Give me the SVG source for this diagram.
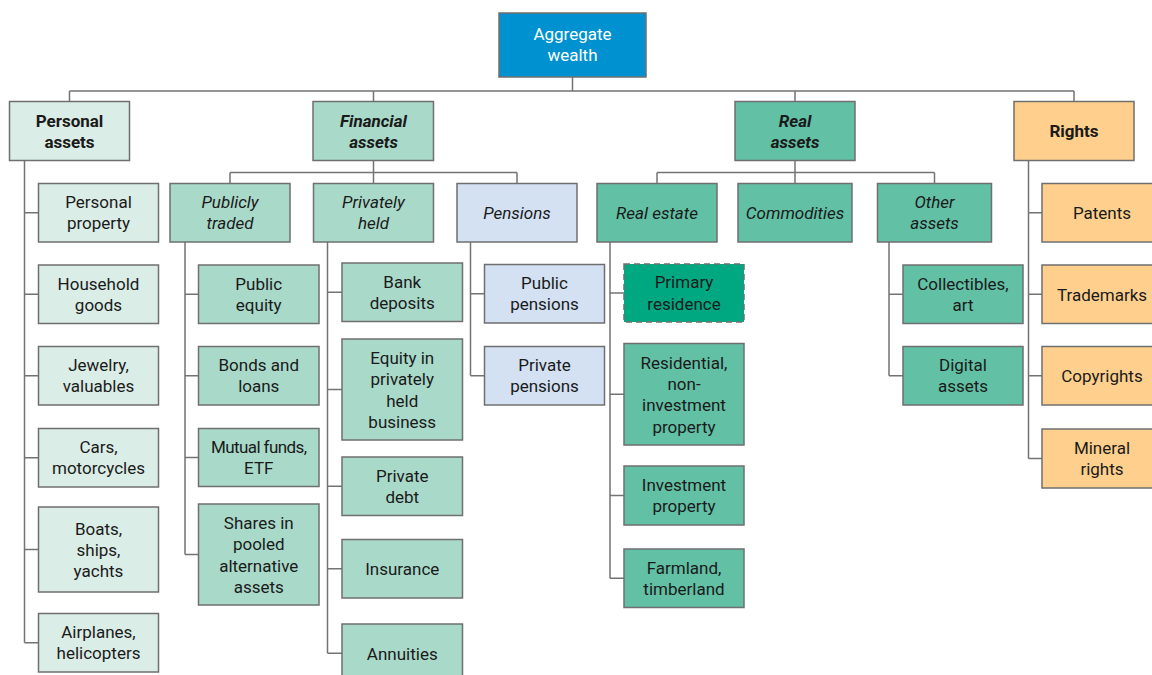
<svg xmlns="http://www.w3.org/2000/svg" width="1152" height="675" viewBox="0 0 1152 675">
  <style>
    rect { stroke: #6f6f6f; stroke-width: 1.5; }
    .root { fill: #0092d0; }
    .pers { fill: #daede6; }
    .fin { fill: #a9d9c9; }
    .real { fill: #62c0a5; }
    .pen { fill: #d3e1f3; }
    .rgt { fill: #ffd08d; }
    .prim { fill: #00a882; stroke-dasharray: 6 4; }
    text { font-family: Roboto, "Liberation Sans", sans-serif; font-size: 17px; fill: #1a1a1a; text-anchor: middle; }
    .w { fill: #ffffff; }
    .b { font-weight: bold; }
    .i { font-style: italic; }
    .bi { font-weight: bold; font-style: italic; }
    #connectors path { fill: none; stroke: #737373; stroke-width: 1.5; }
  </style>

  <!-- tree connectors -->
  <g id="connectors">
    <path d="M572.5 77V91M69.5 91H1074M69.5 91V101.5M373.5 91V101.5M795 91V101.5M1074 91V101.5"/>
    <!-- financial assets branch -->
    <path d="M373.5 160.5V183.5M230 172.5H517M230 172.5V183.5M517 172.5V183.5"/>
    <!-- real assets branch -->
    <path d="M795 160.5V183.5M657 172.5H934.5M657 172.5V183.5M934.5 172.5V183.5"/>
    <!-- personal assets -->
    <path d="M24.5 160.5V642.75M24.5 212.75H38.5M24.5 294.25H38.5M24.5 375.75H38.5M24.5 457.75H38.5M24.5 549.5H38.5M24.5 642.75H38.5"/>
    <!-- publicly traded -->
    <path d="M185 242V554.5M185 294.25H198.5M185 375.75H198.5M185 457.5H198.5M185 554.5H198.5"/>
    <!-- privately held -->
    <path d="M327.5 242V653.25M327.5 292.25H342M327.5 389.5H342M327.5 486.25H342M327.5 568.75H342M327.5 653.25H342"/>
    <!-- pensions -->
    <path d="M470.5 242V375.75M470.5 293.75H484.5M470.5 375.75H484.5"/>
    <!-- real estate -->
    <path d="M610 242V578.25M610 293H624M610 394.25H624M610 495.5H624M610 578.25H624"/>
    <!-- other assets -->
    <path d="M889 242V375.75M889 294.25H903M889 375.75H903"/>
    <!-- rights -->
    <path d="M1028.5 160.5V458.5M1028.5 212.75H1042M1028.5 294.25H1042M1028.5 375.75H1042M1028.5 458.5H1042"/>
  </g>

  <!-- root -->
  <g id="aggregate-wealth">
    <rect class="root" x="499" y="13" width="147" height="64"/>
    <text class="w" x="572.5" y="39.5">Aggregate</text>
    <text class="w" x="572.5" y="60.5">wealth</text>
  </g>

  <!-- level 1 -->
  <g id="personal-assets">
    <rect class="pers" x="9.5" y="101.5" width="120" height="59"/>
    <text class="b" x="69.5" y="127">Personal</text>
    <text class="b" x="69.5" y="148.2">assets</text>
  </g>
  <g id="financial-assets">
    <rect class="fin" x="313" y="101.5" width="120.5" height="59"/>
    <text class="bi" x="373.5" y="127">Financial</text>
    <text class="bi" x="373.5" y="148.2">assets</text>
  </g>
  <g id="real-assets">
    <rect class="real" x="735" y="101.5" width="120" height="59"/>
    <text class="bi" x="795" y="127">Real</text>
    <text class="bi" x="795" y="148.2">assets</text>
  </g>
  <g id="rights">
    <rect class="rgt" x="1014" y="101.5" width="120" height="59"/>
    <text class="b" x="1074" y="136.5">Rights</text>
  </g>

  <!-- level 2 -->
  <g id="publicly-traded">
    <rect class="fin" x="170" y="183.5" width="120" height="58.5"/>
    <text class="i" x="230" y="208.2">Publicly</text>
    <text class="i" x="230" y="229.4">traded</text>
  </g>
  <g id="privately-held">
    <rect class="fin" x="313.5" y="183.5" width="120" height="58.5"/>
    <text class="i" x="373.5" y="208.2">Privately</text>
    <text class="i" x="373.5" y="229.4">held</text>
  </g>
  <g id="pensions">
    <rect class="pen" x="457" y="183.5" width="120" height="58.5"/>
    <text class="i" x="517" y="219">Pensions</text>
  </g>
  <g id="real-estate">
    <rect class="real" x="597" y="183.5" width="120" height="58.5"/>
    <text class="i" x="657" y="219">Real estate</text>
  </g>
  <g id="commodities">
    <rect class="real" x="738" y="183.5" width="114" height="58.5"/>
    <text class="i" x="795" y="219">Commodities</text>
  </g>
  <g id="other-assets">
    <rect class="real" x="877.5" y="183.5" width="114" height="58.5"/>
    <text class="i" x="934.5" y="208.2">Other</text>
    <text class="i" x="934.5" y="229.4">assets</text>
  </g>

  <!-- personal assets items -->
  <g id="personal-property">
    <rect class="pers" x="38.5" y="183.5" width="120" height="58.5"/>
    <text x="98.5" y="208.2">Personal</text>
    <text x="98.5" y="229.4">property</text>
  </g>
  <g id="household-goods">
    <rect class="pers" x="38.5" y="265" width="120" height="58.5"/>
    <text x="98.5" y="289.7">Household</text>
    <text x="98.5" y="310.9">goods</text>
  </g>
  <g id="jewelry-valuables">
    <rect class="pers" x="38.5" y="346.5" width="120" height="58.5"/>
    <text x="98.5" y="371.2">Jewelry,</text>
    <text x="98.5" y="392.4">valuables</text>
  </g>
  <g id="cars-motorcycles">
    <rect class="pers" x="38.5" y="428.5" width="120" height="58.5"/>
    <text x="98.5" y="453.2">Cars,</text>
    <text x="98.5" y="474.4">motorcycles</text>
  </g>
  <g id="boats-ships-yachts">
    <rect class="pers" x="38.5" y="507" width="120" height="85"/>
    <text x="98.5" y="534.8">Boats,</text>
    <text x="98.5" y="556">ships,</text>
    <text x="98.5" y="577.2">yachts</text>
  </g>
  <g id="airplanes-helicopters">
    <rect class="pers" x="38.5" y="613.5" width="120" height="58.5"/>
    <text x="98.5" y="638.2">Airplanes,</text>
    <text x="98.5" y="659.4">helicopters</text>
  </g>

  <!-- publicly traded items -->
  <g id="public-equity">
    <rect class="fin" x="198.5" y="265" width="120.5" height="58.5"/>
    <text x="258.75" y="289.7">Public</text>
    <text x="258.75" y="310.9">equity</text>
  </g>
  <g id="bonds-loans">
    <rect class="fin" x="198.5" y="346.5" width="120.5" height="58.5"/>
    <text x="258.75" y="371.2">Bonds and</text>
    <text x="258.75" y="392.4">loans</text>
  </g>
  <g id="mutual-funds-etf">
    <rect class="fin" x="198.5" y="428.5" width="120.5" height="58"/>
    <text x="258.75" y="452.9" letter-spacing="-0.6">Mutual funds,</text>
    <text x="258.75" y="474.1">ETF</text>
  </g>
  <g id="pooled-alternative-assets">
    <rect class="fin" x="198.5" y="504" width="120.5" height="101"/>
    <text x="258.75" y="529.2">Shares in</text>
    <text x="258.75" y="550.4">pooled</text>
    <text x="258.75" y="571.6">alternative</text>
    <text x="258.75" y="592.8">assets</text>
  </g>

  <!-- privately held items -->
  <g id="bank-deposits">
    <rect class="fin" x="342" y="263" width="120.5" height="58.5"/>
    <text x="402.25" y="287.7">Bank</text>
    <text x="402.25" y="308.9">deposits</text>
  </g>
  <g id="private-business-equity">
    <rect class="fin" x="342" y="339" width="120.5" height="101"/>
    <text x="402.25" y="364.2">Equity in</text>
    <text x="402.25" y="385.4">privately</text>
    <text x="402.25" y="406.6">held</text>
    <text x="402.25" y="427.8">business</text>
  </g>
  <g id="private-debt">
    <rect class="fin" x="342" y="457" width="120.5" height="58.5"/>
    <text x="402.25" y="481.7">Private</text>
    <text x="402.25" y="502.9">debt</text>
  </g>
  <g id="insurance">
    <rect class="fin" x="342" y="539.5" width="120.5" height="58.5"/>
    <text x="402.25" y="575.3">Insurance</text>
  </g>
  <g id="annuities">
    <rect class="fin" x="342" y="624" width="120.5" height="58.5"/>
    <text x="402.25" y="659.8">Annuities</text>
  </g>

  <!-- pensions items -->
  <g id="public-pensions">
    <rect class="pen" x="484.5" y="264.5" width="120" height="58.5"/>
    <text x="544.5" y="289.2">Public</text>
    <text x="544.5" y="310.4">pensions</text>
  </g>
  <g id="private-pensions">
    <rect class="pen" x="484.5" y="346.5" width="120" height="58.5"/>
    <text x="544.5" y="371.2">Private</text>
    <text x="544.5" y="392.4">pensions</text>
  </g>

  <!-- real estate items -->
  <g id="primary-residence">
    <rect class="prim" x="624" y="264" width="120" height="58"/>
    <text x="684" y="288.4">Primary</text>
    <text x="684" y="309.6">residence</text>
  </g>
  <g id="residential-non-investment">
    <rect class="real" x="624" y="343.5" width="120" height="101.5"/>
    <text x="684" y="369">Residential,</text>
    <text x="684" y="390.2">non-</text>
    <text x="684" y="411.4">investment</text>
    <text x="684" y="432.6">property</text>
  </g>
  <g id="investment-property">
    <rect class="real" x="624" y="466" width="120" height="59"/>
    <text x="684" y="490.9">Investment</text>
    <text x="684" y="512.1">property</text>
  </g>
  <g id="farmland-timberland">
    <rect class="real" x="624" y="549" width="120" height="58.5"/>
    <text x="684" y="573.7">Farmland,</text>
    <text x="684" y="594.9">timberland</text>
  </g>

  <!-- other assets items -->
  <g id="collectibles-art">
    <rect class="real" x="903" y="265" width="120" height="58.5"/>
    <text x="963" y="289.7">Collectibles,</text>
    <text x="963" y="310.9">art</text>
  </g>
  <g id="digital-assets">
    <rect class="real" x="903" y="346.5" width="120" height="58.5"/>
    <text x="963" y="371.2">Digital</text>
    <text x="963" y="392.4">assets</text>
  </g>

  <!-- rights items -->
  <g id="patents">
    <rect class="rgt" x="1042" y="183.5" width="120" height="58.5"/>
    <text x="1102" y="219.3">Patents</text>
  </g>
  <g id="trademarks">
    <rect class="rgt" x="1042" y="265" width="120" height="58.5"/>
    <text x="1102" y="300.8">Trademarks</text>
  </g>
  <g id="copyrights">
    <rect class="rgt" x="1042" y="346.5" width="120" height="58.5"/>
    <text x="1102" y="382.3">Copyrights</text>
  </g>
  <g id="mineral-rights">
    <rect class="rgt" x="1042" y="429" width="120" height="59"/>
    <text x="1102" y="453.9">Mineral</text>
    <text x="1102" y="475.1">rights</text>
  </g>
</svg>
